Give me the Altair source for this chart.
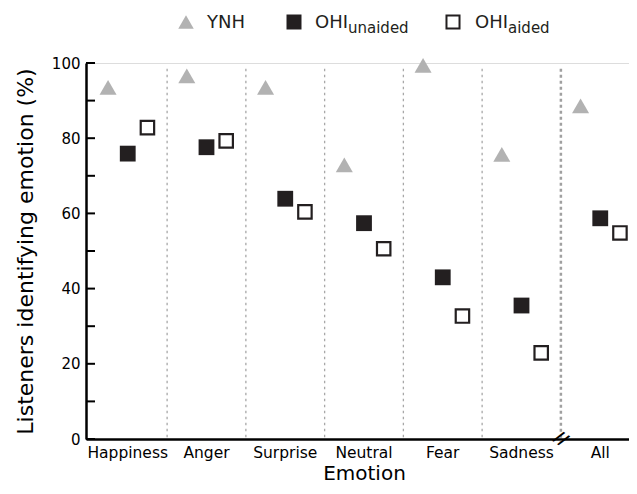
import altair as alt
import pandas as pd

categories = ["Happiness", "Anger", "Surprise", "Neutral", "Fear", "Sadness", "All"]
series = ["YNH", "OHI unaided", "OHI aided"]
ynh = [93.5, 96.6, 93.5, 72.9, 99.4, 75.7, 88.6]
ohi_unaided = [75.9, 77.6, 63.9, 57.4, 43.0, 35.5, 58.7]
ohi_aided = [82.8, 79.3, 60.4, 50.6, 32.7, 22.9, 54.8]
y_tick_values = list(range(0, 101, 10))
y_label_values = [0, 20, 40, 60, 80, 100]

FONT = "DejaVu Sans"
GRAY = "#b2b2b2"
DARK = "#231f20"

df = pd.DataFrame({
    "cat": categories * 3,
    "series": [s for s in series for _ in categories],
    "value": ynh + ohi_unaided + ohi_aided,
})
sep_df = pd.DataFrame({"cat": categories[1:-1], "top": 98.5, "bottom": 0})
sep_major_df = pd.DataFrame({"cat": [categories[-1]], "top": 98.5, "bottom": -1})
tick_df = pd.DataFrame({"value": y_tick_values})
brk_df = pd.DataFrame({"cat": [categories[-1]], "value": [0]})

W, H = 543, 376
xscale = alt.Scale(domain=categories, range=[0, 556], paddingInner=0, paddingOuter=0.03)
yscale = alt.Scale(domain=[0, 100], nice=False, zero=True)
offscale = alt.Scale(domain=series, paddingInner=0, paddingOuter=1)

xaxis = alt.Axis(title="Emotion", labelAngle=0, ticks=False, domainColor="black",
                 domainWidth=2.5, labelFontSize=15.5, labelPadding=6, labelColor="black",
                 titleFontSize=20, titleFontWeight="normal", titleColor="black",
                 titlePadding=3, labelFont=FONT, titleFont=FONT, grid=False)
yaxis = alt.Axis(title="Listeners identifying emotion (%)", values=y_label_values,
                 ticks=False, domainColor="black", domainWidth=2.5, labelFontSize=15,
                 labelPadding=6, labelColor="black", titleFontSize=22,
                 titleFontWeight="normal", titleColor="black", titlePadding=14,
                 labelFont=FONT, titleFont=FONT, grid=False)

def X(**kw):
    return alt.X("cat:N", scale=xscale, sort=categories, axis=xaxis, **kw)

def Y(field="value:Q"):
    return alt.Y(field, scale=yscale, axis=yaxis)

seps = alt.Chart(sep_df).mark_rule(color="#a8a8a8", strokeWidth=1.3, strokeDash=[2.5, 3.5]).encode(
    x=X(bandPosition=0), y=Y("top:Q"), y2="bottom:Q")
sep_major = alt.Chart(sep_major_df).mark_rule(color="#a0a0a0", strokeWidth=2.5, strokeDash=[3, 3]).encode(
    x=X(bandPosition=0), y=Y("top:Q"), y2="bottom:Q")
ticks = alt.Chart(tick_df).mark_rule(color="black", strokeWidth=2).encode(
    y=Y(), x=alt.value(0), x2=alt.value(9))
brk = alt.Chart(brk_df).mark_text(text="//", fontSize=17, fontWeight="bold", angle=35,
                                   color="black", font=FONT).encode(x=X(bandPosition=0), y=Y())

def pts(name, **mk):
    return alt.Chart(df).transform_filter(alt.datum.series == name).mark_point(**mk).encode(
        x=X(), xOffset=alt.XOffset("series:N", scale=offscale), y=Y())

p_ynh = pts("YNH", shape="triangle-up", filled=True, size=290, color=GRAY, opacity=1)
p_un = pts("OHI unaided", shape="square", filled=True, size=250, color=DARK, opacity=1)
p_ai = pts("OHI aided", shape="square", filled=False, size=180, stroke=DARK, strokeWidth=2.2,
           fill="white", opacity=1)

leg_df = pd.DataFrame({"k": [0]})
legend = [
    alt.Chart(leg_df).mark_point(shape="triangle-up", filled=True, size=240, color=GRAY, opacity=1)
        .encode(x=alt.value(100), y=alt.value(-41)),
    alt.Chart(leg_df).mark_text(text="YNH", fontSize=18, align="left", baseline="alphabetic",
                                font=FONT, color=DARK).encode(x=alt.value(121), y=alt.value(-35)),
    alt.Chart(leg_df).mark_point(shape="square", filled=True, size=225, color=DARK, opacity=1)
        .encode(x=alt.value(208), y=alt.value(-41)),
    alt.Chart(leg_df).mark_text(text="OHI", fontSize=18, align="left", baseline="alphabetic",
                                font=FONT, color=DARK).encode(x=alt.value(229), y=alt.value(-35)),
    alt.Chart(leg_df).mark_text(text="unaided", fontSize=15, align="left", baseline="alphabetic",
                                font=FONT, color=DARK).encode(x=alt.value(262), y=alt.value(-30)),
    alt.Chart(leg_df).mark_point(shape="square", filled=False, size=170, stroke=DARK, strokeWidth=2,
                                 fill="white", opacity=1).encode(x=alt.value(367), y=alt.value(-41)),
    alt.Chart(leg_df).mark_text(text="OHI", fontSize=18, align="left", baseline="alphabetic",
                                font=FONT, color=DARK).encode(x=alt.value(389), y=alt.value(-35)),
    alt.Chart(leg_df).mark_text(text="aided", fontSize=15, align="left", baseline="alphabetic",
                                font=FONT, color=DARK).encode(x=alt.value(422), y=alt.value(-30)),
]

chart = alt.layer(seps, sep_major, ticks, p_ynh, p_un, p_ai, brk, *legend).properties(
    width=W, height=H,
    padding={"left": 78, "top": 55, "right": 0, "bottom": 47},
    autosize=alt.AutoSizeParams(type="none"),
).configure_view(stroke=None).configure(font=FONT, background="white")

chart.save("out.html", embed_options={"renderer": "svg", "actions": False})
